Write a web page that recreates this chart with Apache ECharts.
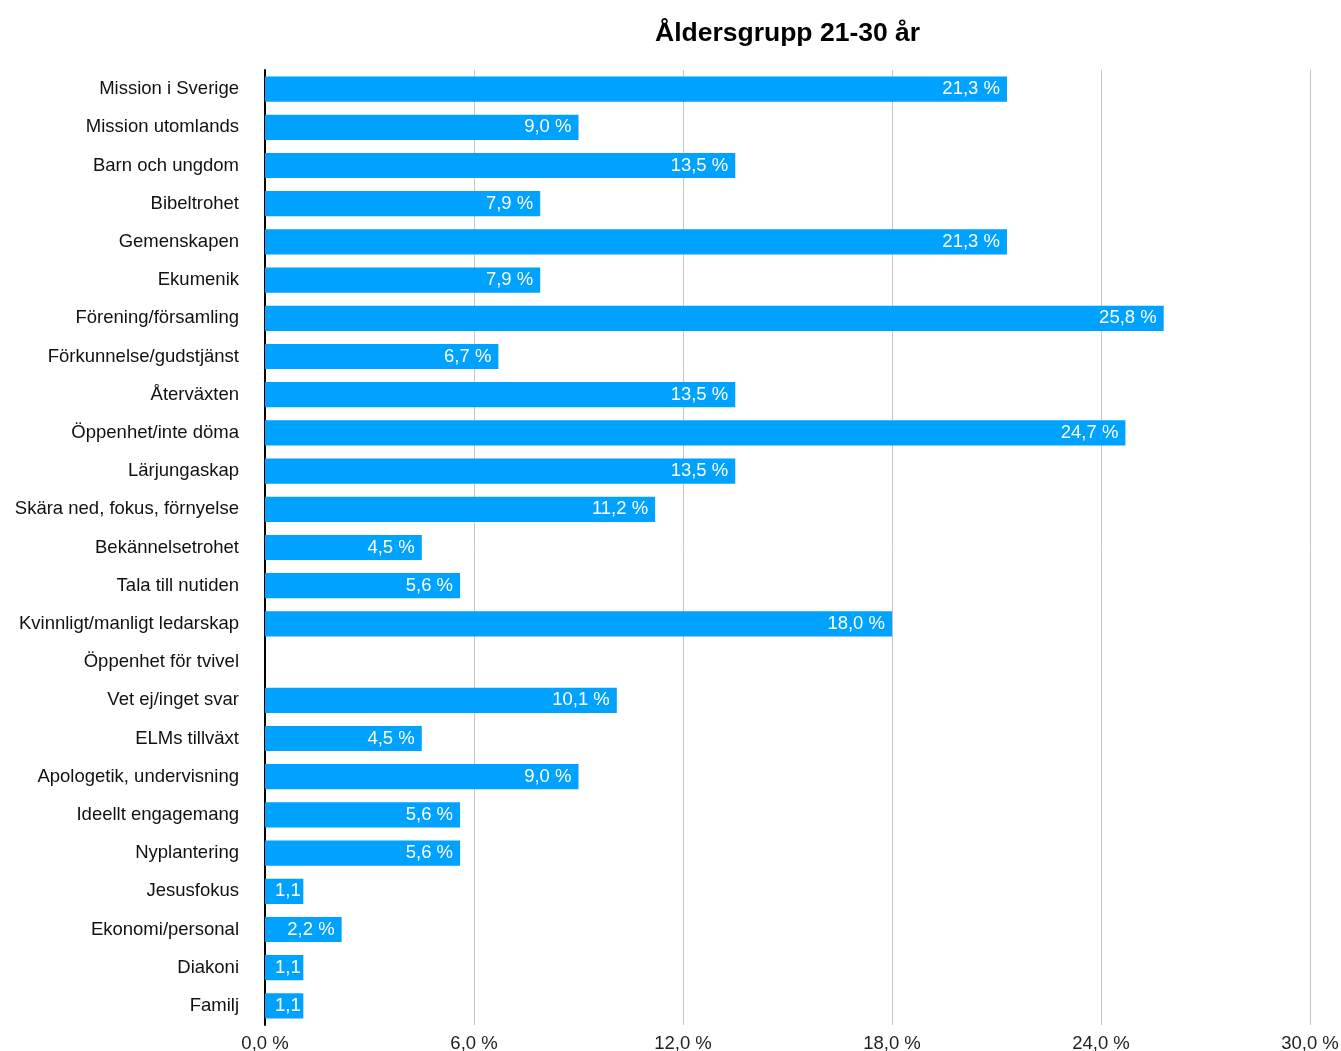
<!DOCTYPE html>
<html><head><meta charset="utf-8">
<script src="https://cdn.jsdelivr.net/npm/echarts@6/dist/echarts.min.js"></script>
<style>html,body{margin:0;padding:0;background:#fff}#c{width:1341px;height:1051px}</style>
</head><body><div id="c"></div>
<script>
const title = 'Åldersgrupp 21-30 år';
const categories = ['Mission i Sverige','Mission utomlands','Barn och ungdom','Bibeltrohet','Gemenskapen','Ekumenik','Förening/församling','Förkunnelse/gudstjänst','Återväxten','Öppenhet/inte döma','Lärjungaskap','Skära ned, fokus, förnyelse','Bekännelsetrohet','Tala till nutiden','Kvinnligt/manligt ledarskap','Öppenhet för tvivel','Vet ej/inget svar','ELMs tillväxt','Apologetik, undervisning','Ideellt engagemang','Nyplantering','Jesusfokus','Ekonomi/personal','Diakoni','Familj'];
const values = [21.3,9.0,13.5,7.9,21.3,7.9,25.8,6.7,13.5,24.7,13.5,11.2,4.5,5.6,18.0,0,10.1,4.5,9.0,5.6,5.6,1.1,2.2,1.1,1.1];
const tickMax = 30, tickStep = 6;

const fmt = v => v.toFixed(1).replace('.', ',');
const font = '"Liberation Sans", Arial, Helvetica, sans-serif';
const chart = echarts.init(document.getElementById('c'), null, {renderer:'canvas'});
chart.setOption({
  animation:false,
  title:{text:title,left:655,top:20,padding:0,textStyle:{fontFamily:font,fontSize:26.5,fontWeight:'bold',color:'#000'}},
  grid:{left:265,right:31,top:70,bottom:26,containLabel:false,outerBoundsMode:'none'},
  xAxis:{type:'value',min:0,max:tickMax,interval:tickStep,
    axisLine:{show:false},axisTick:{show:false},
    splitLine:{show:true,lineStyle:{color:'#c6c6c6',width:1}},
    axisLabel:{fontFamily:font,fontSize:18.5,color:'#222',margin:9,formatter:v=>fmt(v)+' %'}},
  yAxis:{type:'category',data:categories,inverse:true,
    axisLine:{show:true,lineStyle:{color:'#000',width:2}},axisTick:{show:false},
    axisLabel:{fontFamily:font,fontSize:18.5,color:'#111',margin:26}},
  series:[{type:'bar',data:values.map(v=>({value:v,label:{
      show:v>0,
      formatter: v<2 ? fmt(v) : fmt(v)+' %',
      position: v<2 ? 'insideLeft' : 'insideRight',
      distance: v<2 ? 10 : 7}})),
    barCategoryGap:'34%',
    itemStyle:{color:'#00A2FF'},
    label:{fontFamily:font,fontSize:18.5,color:'#fff',distance:7}
  }]
});
</script></body></html>
